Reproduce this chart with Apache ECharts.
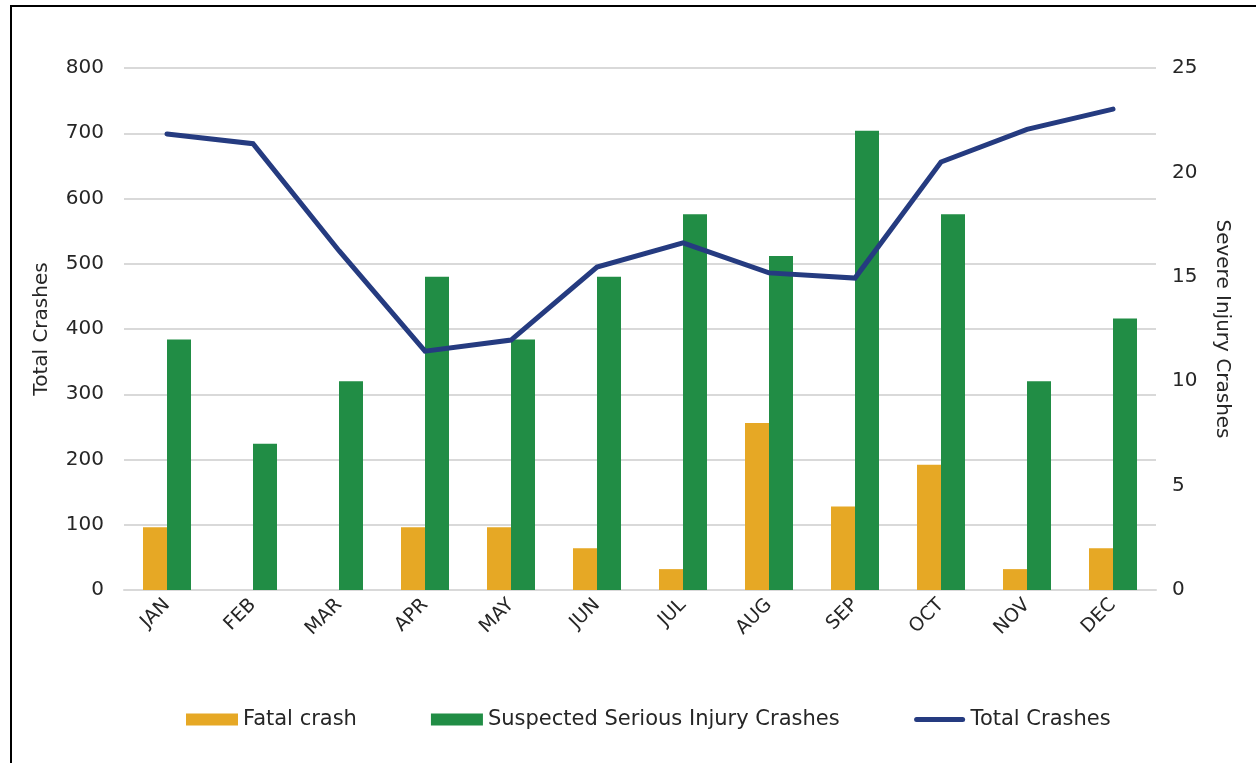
<!DOCTYPE html>
<html>
<head>
<meta charset="utf-8">
<script src="https://cdn.jsdelivr.net/npm/echarts@6/dist/echarts.min.js"></script>
<style>
  body { margin: 0; background: #fff; }
  #wrap { position: relative; width: 1256px; height: 763px; overflow: hidden; }
  #frame { position: absolute; left: 10px; top: 5px; width: 1400px; height: 900px;
    border-left: 2px solid #000; border-top: 2px solid #000; }
  #chart { position: absolute; left: 0; top: 0; width: 1256px; height: 763px; }
</style>
</head>
<body>
<div id="wrap">
  <div id="frame"></div>
  <div id="chart"></div>
</div>
<script>
const months = ['JAN', 'FEB', 'MAR', 'APR', 'MAY', 'JUN', 'JUL', 'AUG', 'SEP', 'OCT', 'NOV', 'DEC']
const fatalCrash = [3, 0, 0, 3, 3, 2, 1, 8, 4, 6, 1, 2]
const seriousInjury = [12, 7, 10, 15, 12, 15, 18, 16, 22, 18, 10, 13]
const totalCrashes = [699, 684, 520, 366, 383, 495, 532, 486, 478, 656, 706, 737]

const fonte = "'DejaVu Sans', sans-serif"
const corTexto = '#262626'
// linha arredondada fina dentro da caixa do icone da legenda
const iconeLinha = 'path://M0,0 M52,12 M3,3.5 L49,3.5 A2.5,2.5 0 0 1 49,8.5 L3,8.5 A2.5,2.5 0 0 1 3,3.5 Z'

const myChart = echarts.init(document.getElementById('chart'))
myChart.setOption({
  animation: false,
  textStyle: { fontFamily: fonte },
  grid: {
    left: 124,
    right: 100,
    top: 68,
    bottom: 173,
  },
  legend: {
    bottom: 28,
    left: 181,
    itemWidth: 52,
    itemHeight: 12,
    itemGap: 74,
    textStyle: { fontSize: 21, color: corTexto, fontFamily: fonte },
    data: [
      { name: 'Fatal crash', icon: 'rect' },
      { name: 'Suspected Serious Injury Crashes', icon: 'rect' },
      { name: 'Total Crashes', icon: iconeLinha },
    ],
  },
  xAxis: {
    type: 'category',
    data: months,
    axisLine: { lineStyle: { color: '#d9d9d9', width: 2 } },
    axisTick: { show: false },
    axisLabel: {
      rotate: 45,
      fontSize: 19,
      color: corTexto,
      margin: 12,
    },
  },
  yAxis: [
    {
      type: 'value',
      name: 'Total Crashes',
      nameLocation: 'middle',
      nameGap: 72,
      nameTextStyle: { fontSize: 20, color: corTexto },
      min: 0,
      max: 800,
      interval: 100,
      axisLine: { show: false },
      axisTick: { show: false },
      axisLabel: { fontSize: 20, color: corTexto, margin: 20 },
      splitLine: { lineStyle: { color: '#d9d9d9', width: 2 } },
    },
    {
      type: 'value',
      name: 'Severe Injury Crashes',
      nameLocation: 'middle',
      nameGap: 56,
      nameRotate: -90,
      nameTextStyle: { fontSize: 20, color: corTexto },
      min: 0,
      max: 25,
      interval: 5,
      axisLine: { show: false },
      axisTick: { show: false },
      axisLabel: { fontSize: 20, color: corTexto, margin: 16 },
      splitLine: { show: false },
    },
  ],
  series: [
    {
      name: 'Fatal crash',
      type: 'bar',
      yAxisIndex: 1,
      data: fatalCrash,
      barWidth: 24,
      barGap: '0%',
      itemStyle: { color: '#E6A825' },
    },
    {
      name: 'Suspected Serious Injury Crashes',
      type: 'bar',
      yAxisIndex: 1,
      data: seriousInjury,
      barWidth: 24,
      barGap: '0%',
      itemStyle: { color: '#218D45' },
    },
    {
      name: 'Total Crashes',
      type: 'line',
      yAxisIndex: 0,
      data: totalCrashes,
      symbol: 'none',
      lineStyle: { color: '#253B80', width: 5, cap: 'round', join: 'miter' },
      itemStyle: { color: '#253B80' },
      z: 5,
    },
  ],
})
</script>
</body>
</html>
